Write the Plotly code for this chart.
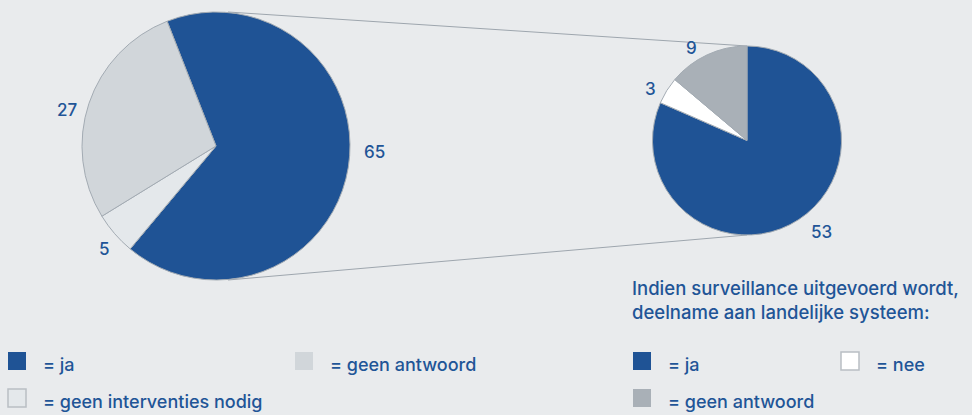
import math
import plotly.graph_objects as go

# Left pie: interventions
main_labels = ["ja", "geen interventies nodig", "geen antwoord"]
main_values = [65, 5, 27]

# Right pie: participation in national surveillance system
sub_labels = ["ja", "nee", "geen antwoord"]
sub_values = [53, 3, 9]

W, H = 975, 415
BG = "#E9EBED"
BLUE = "#1F5395"
TEXT = "#1F5597"
EDGE = "#A3ABB3"
FONT = "Inter"

main_colors = [BLUE, "#E4E8EB", "#D1D6DA"]
sub_colors = [BLUE, "#FFFFFF", "#A9B0B7"]

# pie geometry in pixels (centre x, centre y from top, radius) and start angle
main_geo = dict(cx=216, cy=146, r=134, rot=-21.4)
sub_geo = dict(cx=747, cy=140.5, r=94.5, rot=0)


def px(x):
    return x / W


def py(y):
    return 1 - y / H


def domain(g):
    return dict(x=[px(g["cx"] - g["r"]), px(g["cx"] + g["r"])],
                y=[py(g["cy"] + g["r"]), py(g["cy"] - g["r"])])


fig = go.Figure()
for vals, labs, cols, g in [(main_values, main_labels, main_colors, main_geo),
                            (sub_values, sub_labels, sub_colors, sub_geo)]:
    fig.add_trace(go.Pie(
        values=vals, labels=labs, sort=False, direction="clockwise",
        rotation=g["rot"], domain=domain(g), textinfo="none",
        hoverinfo="label+value",
        marker=dict(colors=cols, line=dict(color=EDGE, width=1)),
        showlegend=False,
    ))

annotations = []


def value_labels(vals, g, gap):
    total = sum(vals)
    start = g["rot"]
    for v, dg in zip(vals, gap):
        span = v / total * 360
        mid = math.radians(start + span / 2 + dg[0])
        dist = g["r"] + dg[1]
        x = g["cx"] + dist * math.sin(mid)
        y = g["cy"] - dist * math.cos(mid)
        annotations.append(dict(x=px(x), y=py(y), xref="paper", yref="paper",
                                text=str(v), showarrow=False,
                                xanchor="center", yanchor="middle",
                                font=dict(size=17, color=TEXT, family=FONT, weight=500)))
        start += span


# (angle nudge in degrees, distance beyond the rim in px) for each label
value_labels(main_values, main_geo, [(-7, 25), (-2, 18), (-5, 19)])
value_labels(sub_values, sub_geo, [(-6, 23), (-4, 15), (-6, 13)])

shapes = [
    # white strip at the right edge
    dict(type="rect", xref="paper", yref="paper", x0=px(972), x1=1, y0=0, y1=1,
         fillcolor="#FFFFFF", line=dict(width=0), layer="below"),
    # zoom connector lines
    dict(type="line", xref="paper", yref="paper", x0=px(228), y0=py(12),
         x1=px(747), y1=py(46), line=dict(color="#9EA6AE", width=1), layer="below"),
    dict(type="line", xref="paper", yref="paper", x0=px(228), y0=py(280),
         x1=px(747), y1=py(235), line=dict(color="#9EA6AE", width=1), layer="below"),
]


def legend_item(x, y, color, text, border=None):
    shapes.append(dict(type="rect", xref="paper", yref="paper",
                       x0=px(x), x1=px(x + 18), y0=py(y + 18), y1=py(y),
                       fillcolor=color,
                       line=dict(color=border or color, width=1.5 if border else 0)))
    annotations.append(dict(x=px(x + 33), y=py(y + 12),
                            xref="paper", yref="paper", text=text, showarrow=False,
                            xanchor="left", yanchor="middle",
                            font=dict(size=18, color=TEXT, family=FONT, weight=500)))


legend_item(8, 352, main_colors[0], "= ja")
legend_item(295, 352, main_colors[2], "= geen antwoord")
legend_item(8, 389, main_colors[1], "= geen interventies nodig", border="#B9BFC4")

annotations.append(dict(x=px(630), y=py(300), xref="paper", yref="paper",
                        text="Indien surveillance uitgevoerd wordt,<br>deelname aan landelijke systeem:",
                        showarrow=False, xanchor="left", yanchor="middle", align="left",
                        font=dict(size=18.5, color=TEXT, family=FONT, weight=500)))
legend_item(633, 352, sub_colors[0], "= ja")
legend_item(841, 352, sub_colors[1], "= nee", border="#B9BFC4")
legend_item(633, 389, sub_colors[2], "= geen antwoord")

fig.update_layout(
    width=W, height=H, margin=dict(l=0, r=0, t=0, b=0),
    paper_bgcolor=BG, plot_bgcolor=BG,
    shapes=shapes, annotations=annotations,
    font=dict(family=FONT, color=TEXT),
)

fig.write_html("out.html", config={"displayModeBar": False})
